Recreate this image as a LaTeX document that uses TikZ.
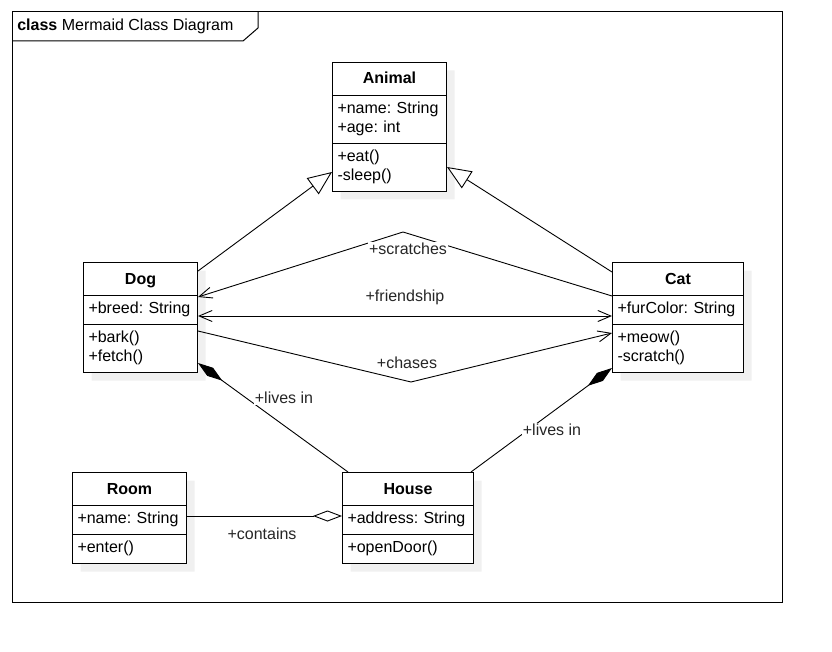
\documentclass[tikz,border=0pt]{standalone}
\usepackage{fontspec}
\setmainfont{Liberation Sans}
\usetikzlibrary{arrows.meta,shapes.multipart,shadows}
\frenchspacing
\tikzset{
  umlfont/.style={font=\fontsize{16pt}{19pt}\selectfont},
  umlclass/.style={umlfont,draw,line width=1pt,fill=white,rectangle split,
    rectangle split parts=3,anchor=north west,align=left,
    inner xsep=5pt,inner ysep=4.5pt,
    drop shadow={shadow xshift=8pt,shadow yshift=-8pt,fill=black!6,opacity=1}},
  edgelabel/.style={umlfont,fill=white,inner sep=1pt,text=black!85},
  assoc/.style={line width=0.9pt},
  inherit/.style={assoc,-{Triangle[length=24pt,width=20pt,fill=white]}},
  openhead/.style={assoc,-{Straight Barb[length=13pt,width=11pt]}},
  bothheads/.style={assoc,{Straight Barb[length=13pt,width=11pt]}-{Straight Barb[length=13pt,width=11pt]}},
  compose/.style={assoc,{Diamond[length=30pt,width=10pt]}-},
  aggreg/.style={assoc,{Diamond[length=29pt,width=11pt,fill=white]}-}
}
\begin{document}
\begin{tikzpicture}[x=1pt,y=-1pt,semithick]
\useasboundingbox (0,0) rectangle (832,652);
\draw[line width=1pt] (12,12) rectangle (782,602);
\draw[line width=1pt] (12,41) -- (243,41) -- (258,28) -- (258,12);
\node[umlfont,anchor=west,inner sep=0pt] (frametitle) at (17,26) {\textbf{class} Mermaid Class Diagram};
\node[umlclass,text width=104pt] (animal) at (332,62)
  {\makebox[\hsize]{\textbf{Animal}\rule[-6.5pt]{0pt}{23pt}}\nodepart{two}\strut+name: String\\+age: int\strut\nodepart{three}\strut+eat()\\-sleep()\strut};
\node[umlclass,text width=104pt] (dog) at (83,262)
  {\makebox[\hsize]{\textbf{Dog}\rule[-6.5pt]{0pt}{23pt}}\nodepart{two}\strut+breed: String\nodepart{three}\strut+bark()\\+fetch()\strut};
\node[umlclass,text width=121pt] (cat) at (612,262)
  {\makebox[\hsize]{\textbf{Cat}\rule[-6.5pt]{0pt}{23pt}}\nodepart{two}\strut+furColor: String\nodepart{three}\strut+meow()\\-scratch()\strut};
\node[umlclass,text width=104pt] (room) at (72,472)
  {\makebox[\hsize]{\textbf{Room}\rule[-6.5pt]{0pt}{23pt}}\nodepart{two}\strut+name: String\nodepart{three}\strut+enter()};
\node[umlclass,text width=121pt] (house) at (342,472)
  {\makebox[\hsize]{\textbf{House}\rule[-6.5pt]{0pt}{23pt}}\nodepart{two}\strut+address: String\nodepart{three}\strut+openDoor()};
\coordinate (scratchbend) at (403,232);
\coordinate (chasebend) at (411,382);
\draw[inherit] ([yshift=-9pt]dog.north east) -- ([yshift=20pt]animal.south west);
\draw[inherit] ([yshift=-10pt]cat.north west) -- ([yshift=25pt]animal.south east);
\draw[openhead] ([yshift=-34pt]cat.north west) -- (scratchbend) -- ([yshift=-35pt]dog.north east);
\draw[bothheads] ([yshift=-54pt]dog.north east) -- ([yshift=-54pt]cat.north west);
\draw[openhead] ([yshift=-69pt]dog.north east) -- (chasebend) -- ([yshift=-71pt]cat.north west);
\draw[compose] ([yshift=10pt]dog.south east) -- ([xshift=6pt]house.north west);
\draw[compose] ([yshift=5pt]cat.south west) -- ([xshift=-3pt]house.north east);
\draw[aggreg] ([yshift=-44pt]house.north west) -- ([yshift=-44pt]room.north east);
\node[edgelabel] (scratchlabel) at (408,249) {+scratches};
\node[edgelabel] (friendlabel) at (405,297) {+friendship};
\node[edgelabel] (chaselabel) at (407,363) {+chases};
\node[edgelabel] (dogliveslabel) at (284,398) {+lives in};
\node[edgelabel] (catliveslabel) at (552,430) {+lives in};
\node[edgelabel] (containlabel) at (262,534) {+contains};
\end{tikzpicture}
\end{document}
